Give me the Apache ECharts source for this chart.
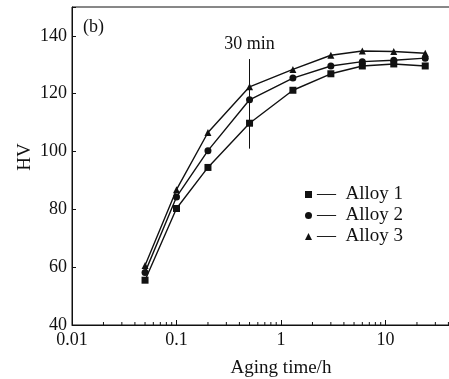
<!DOCTYPE html>
<html>
<head>
<meta charset="utf-8">
<script src="https://cdn.jsdelivr.net/npm/echarts@6/dist/echarts.min.js"></script>
<style>
  html, body { margin: 0; padding: 0; background: #fff; }
  #chart { width: 449px; height: 379px; }
</style>
</head>
<body>
<div id="chart"></div>
<script>
// Aging time (h) of each hardness measurement
const agingTime = [0.05, 0.1, 0.2, 0.5, 1.3, 3, 6, 12, 24];
// Vickers hardness of each alloy
const alloy1HV = [55.5, 80.3, 94.5, 109.8, 121.2, 126.9, 129.6, 130.3, 129.6];
const alloy2HV = [58.2, 84.3, 100.3, 117.9, 125.4, 129.6, 131.1, 131.6, 132.3];
const alloy3HV = [60.6, 86.8, 106.6, 122.4, 128.4, 133.3, 134.8, 134.6, 134.0];
const seriesNames = ['Alloy 1', 'Alloy 2', 'Alloy 3'];
const seriesSymbols = ['rect', 'circle', 'triangle'];
// Marker for the 30 min aging time
const markTime = 0.5;
const markRange = [101, 132];
const markText = '30 min';

const ink = '#111';
const serif = '"Liberation Serif", "Times New Roman", serif';

// log-spaced minor ticks (2..9 in each decade)
const minorTicks = [];
for (let d = -2; d < 2; d++) {
  for (let k = 2; k <= 9; k++) minorTicks.push(+(k * Math.pow(10, d)).toPrecision(3));
}

function pairs(ys) { return agingTime.map((t, i) => [t, ys[i]]); }

const chart = echarts.init(document.getElementById('chart'));
const sizes = [7, 7, 7];
const hvSets = [alloy1HV, alloy2HV, alloy3HV];

const lineSeries = hvSets.map((ys, i) => ({
  name: seriesNames[i],
  type: 'line',
  data: pairs(ys),
  symbol: seriesSymbols[i],
  symbolSize: sizes[i],
  showAllSymbol: true,
  lineStyle: { color: ink, width: 1.4 },
  itemStyle: { color: ink },
  emphasis: { disabled: true },
  z: 3
}));

lineSeries[0].markLine = {
  silent: true,
  symbol: 'none',
  lineStyle: { color: ink, width: 1, type: 'solid' },
  label: {
    show: true, position: 'end', distance: 6,
    formatter: markText,
    color: ink, fontFamily: serif, fontSize: 18
  },
  data: [[{ coord: [markTime, markRange[0]] }, { coord: [markTime, markRange[1]] }]]
};

chart.setOption({
  animation: false,
  backgroundColor: '#fff',
  textStyle: { fontFamily: serif },
  grid: {
    left: 72, top: 7, width: 418, bottom: 54,
    containLabel: false, outerBoundsMode: 'none',
    show: true, borderColor: ink, borderWidth: 1, backgroundColor: 'transparent'
  },
  legend: {
    orient: 'vertical',
    left: 300, top: 180,
    itemWidth: 7, itemHeight: 7, itemGap: 2,
    data: seriesNames.map((n, i) => ({ name: n, icon: seriesSymbols[i] })),
    formatter: n => '\u2014  ' + n,
    textStyle: { fontFamily: serif, fontSize: 19, color: ink },
    selectedMode: false
  },
  xAxis: {
    type: 'log',
    min: 0.01, max: 100,
    logBase: 10,
    name: 'Aging time/h',
    nameLocation: 'middle',
    nameGap: 34,
    nameTextStyle: { fontFamily: serif, fontSize: 19, color: ink },
    axisLine: { lineStyle: { color: ink, width: 1 } },
    axisTick: { inside: true, length: 5, lineStyle: { color: ink } },
    axisLabel: { fontFamily: serif, fontSize: 18, color: ink, margin: 6 },
    splitLine: { show: false }
  },
  yAxis: {
    type: 'value',
    min: 40, max: 150, interval: 20,
    axisLine: { show: true, lineStyle: { color: ink, width: 1 } },
    axisTick: { inside: true, length: 4, lineStyle: { color: ink } },
    axisLabel: {
      fontFamily: serif, fontSize: 18, color: ink, margin: 5,
      formatter: v => (v > 140 ? '' : String(v))
    },
    splitLine: { show: false }
  },
  graphic: [
    { type: 'text', left: 83, top: 18, style: { text: '(b)', font: '18px ' + serif, fill: ink } },
    { type: 'text', x: 25, y: 157, rotation: Math.PI / 2,
      style: { text: 'HV', font: '19px ' + serif, fill: ink, align: 'center', verticalAlign: 'middle' } }
  ],
  series: lineSeries.concat([{
    type: 'custom',
    silent: true,
    clip: false,
    data: minorTicks.map(v => [v, 40]),
    renderItem: (params, api) => {
      const p = api.coord([api.value(0), api.value(1)]);
      return {
        type: 'line',
        shape: { x1: p[0], y1: p[1], x2: p[0], y2: p[1] - 3 },
        style: { stroke: ink, lineWidth: 1 }
      };
    },
    z: 2
  }])
});
</script>
</body>
</html>
